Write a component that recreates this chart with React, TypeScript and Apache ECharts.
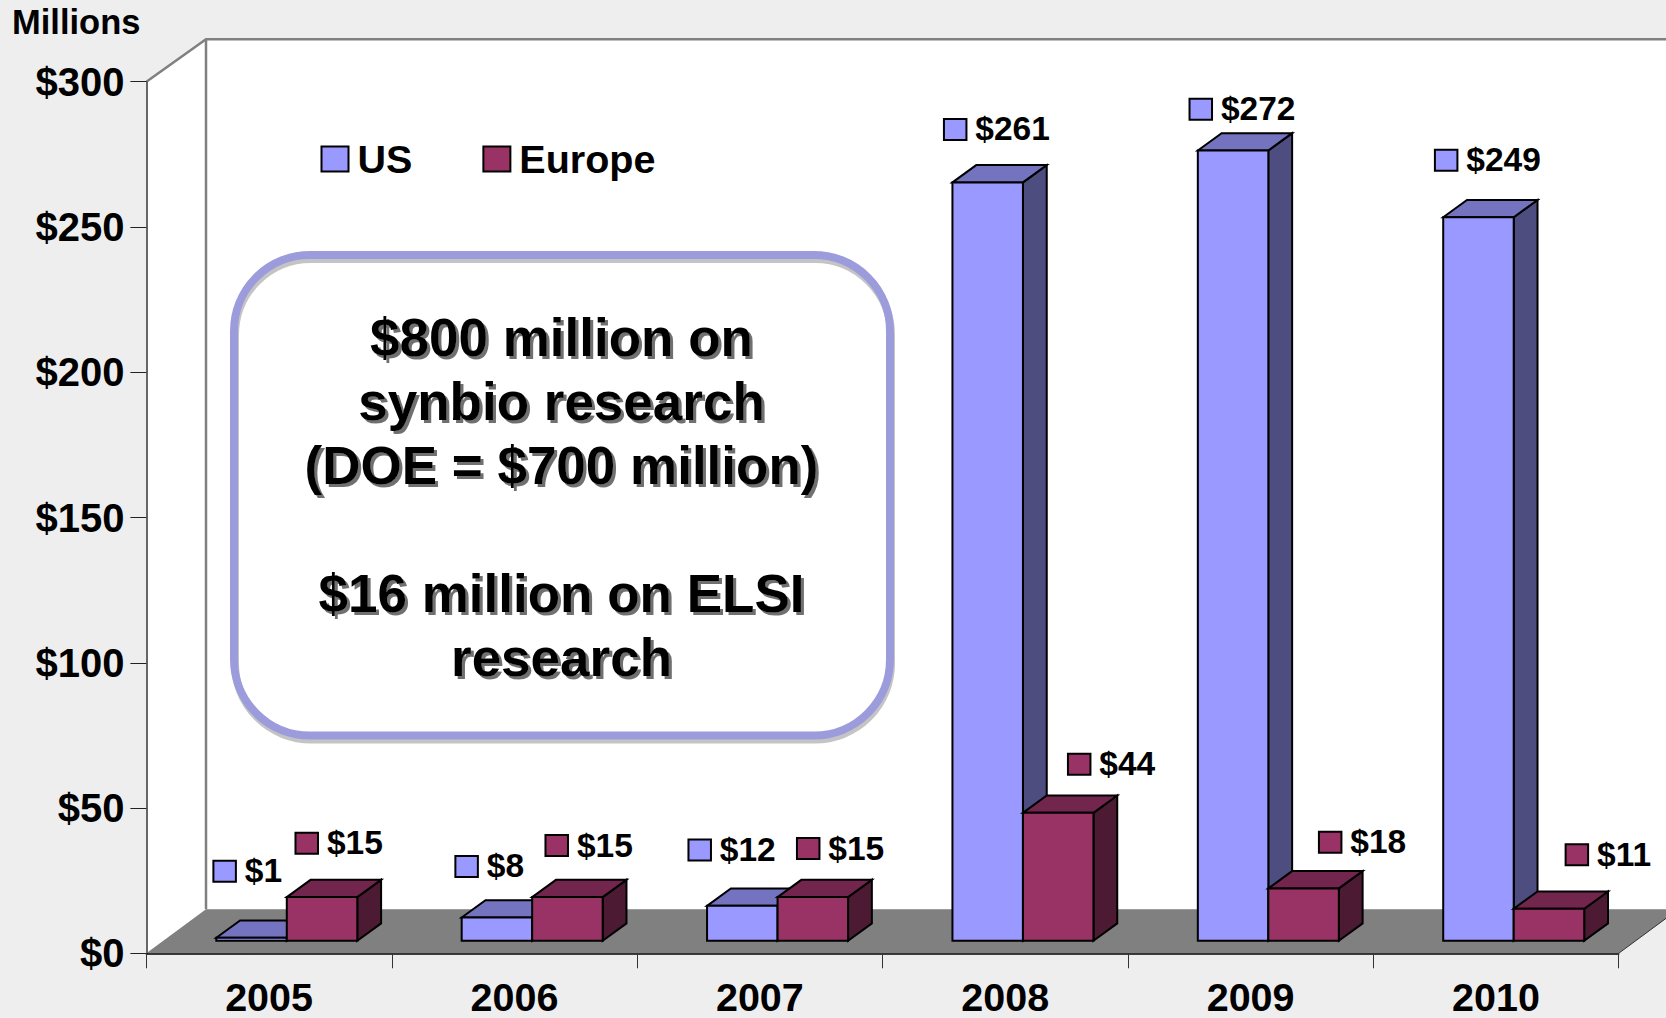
import React, { useEffect, useRef } from "react";
import * as echarts from "echarts";

const years = ["2005", "2006", "2007", "2008", "2009", "2010"];
const usValues = [1, 8, 12, 261, 272, 249];
const europeValues = [15, 15, 15, 44, 18, 11];
const yTicks = { min: 0, max: 300, interval: 50 };
const noteLines = [
  "$800 million on",
  "synbio research",
  "(DOE = $700 million)",
  "",
  "$16 million on ELSI",
  "research",
];

// key offsets of each value tag, from the top-left front corner of its bar
const usTagOffsets = [[-2.9, -77.1], [-6.3, -61.5], [-18.6, -66.3], [-8.5, -63.5], [-8.3, -51.8], [-8.3, -67.4]];
const europeTagOffsets = [[8.7, -64.4], [13.3, -62.1], [19.4, -59.1], [45, -59.2], [50.6, -56.7], [51.9, -64.4]];

const FONT = "'Liberation Sans', Arial, sans-serif";
const BAR_W = 70.5;
const SHIFT_X = 17.7;
const SHIFT_Y = 12.6;
const DEPTH_X = 23.8;
const DEPTH_Y = 17.3;
const WALL_X = 59.6;
const WALL_Y = 42.4;
const FLOOR_Y = 44;
const BOX = { x: 234, y: 255, width: 656, height: 480.5, r: 76 };

function barRenderer(
  side: "left" | "right",
  front: string,
  top: string,
  dark: string,
  offsets: number[][]
) {
  return (_params: any, api: any) => {
    const cat = api.value(0);
    const val = api.value(1);
    const base = api.coord([cat, 0]);
    const peak = api.coord([cat, val]);
    const x0 = base[0] + SHIFT_X - (side === "left" ? BAR_W : 0);
    const x1 = x0 + BAR_W;
    const yb = base[1] - SHIFT_Y;
    const yt = peak[1] - SHIFT_Y;
    const stroke = { stroke: "#000", lineWidth: 2, lineJoin: "miter" };
    const off = offsets[cat];
    const kx = x0 + off[0];
    const ky = yt + off[1];
    return {
      type: "group",
      children: [
        {
          type: "polygon",
          shape: { points: [[x1, yb], [x1 + DEPTH_X, yb - DEPTH_Y], [x1 + DEPTH_X, yt - DEPTH_Y], [x1, yt]] },
          style: { fill: dark, ...stroke },
        },
        {
          type: "polygon",
          shape: { points: [[x0, yt], [x0 + DEPTH_X, yt - DEPTH_Y], [x1 + DEPTH_X, yt - DEPTH_Y], [x1, yt]] },
          style: { fill: top, ...stroke },
        },
        {
          type: "rect",
          shape: { x: x0, y: yt, width: BAR_W, height: yb - yt },
          style: { fill: front, ...stroke },
        },
        {
          type: "rect",
          shape: { x: kx, y: ky, width: 22.5, height: 21 },
          style: { fill: front, ...stroke },
        },
        {
          type: "text",
          x: kx + 31.4,
          y: ky + 10,
          style: {
            text: "$" + val,
            fill: "#000",
            font: `bold 33.5px ${FONT}`,
            verticalAlign: "middle",
            align: "left",
          },
        },
      ],
    };
  };
}

function wallRenderer(params: any) {
  const { x, y, width, height } = params.coordSys;
  const bottom = y + height;
  const right = x + width;
  const bx = x + WALL_X;
  const by = y - WALL_Y;
  const fy = bottom - FLOOR_Y;
  const far = right + WALL_X;
  const gray = "#808080";
  return {
    type: "group",
    children: [
      {
        type: "polygon",
        shape: { points: [[x, y], [bx, by], [far, by], [far, fy], [bx, fy], [x, bottom]] },
        style: { fill: "#fff" },
      },
      {
        type: "polygon",
        shape: { points: [[x, bottom], [right, bottom], [far, fy], [bx, fy]] },
        style: { fill: gray },
      },
      {
        type: "polyline",
        shape: { points: [[x, y], [bx, by], [far, by]] },
        style: { fill: "none", stroke: gray, lineWidth: 2.5 },
      },
      {
        type: "line",
        shape: { x1: bx, y1: by, x2: bx, y2: fy },
        style: { stroke: gray, lineWidth: 2.5 },
      },
      {
        type: "line",
        shape: { x1: right, y1: bottom, x2: far, y2: fy },
        style: { stroke: "#333", lineWidth: 1 },
      },
    ],
  };
}

export default function App() {
  const ref = useRef<HTMLDivElement>(null);
  useEffect(() => {
    document.body.style.margin = "0";
    const chart = echarts.init(ref.current!, undefined, { renderer: "svg" });
    chart.setOption({
      animation: false,
      backgroundColor: "#eeeeee",
      grid: { left: 146.4, top: 81.7, width: 1472.3, height: 871.6, containLabel: false, outerBoundsMode: "none" },
      legend: {
        left: 315.5,
        top: 134,
        itemWidth: 27,
        itemHeight: 25,
        itemGap: 70,
        icon: "rect",
        data: ["US", "Europe"],
        itemStyle: { borderColor: "#000", borderWidth: 2 },
        textStyle: { fontFamily: FONT, fontWeight: "bold", fontSize: 39.5, color: "#000", padding: [0, 0, 0, 4] },
      },
      xAxis: {
        type: "category",
        data: years,
        z: 3,
        axisLine: { lineStyle: { color: "#000", width: 1.5 } },
        axisTick: { show: true, length: 15, lineStyle: { color: "#333", width: 1 } },
        axisLabel: { fontFamily: FONT, fontWeight: "bold", fontSize: 39.5, lineHeight: 34, color: "#000", margin: 26.5 },
      },
      yAxis: {
        type: "value",
        ...yTicks,
        z: 3,
        name: "Millions",
        nameLocation: "end",
        nameGap: 60,
        nameTextStyle: {
          fontFamily: FONT,
          fontWeight: "bold",
          fontSize: 34.5,
          color: "#000",
          align: "right",
          verticalAlign: "middle",
          padding: [0, 6, 0, 0],
        },
        splitLine: { show: false },
        axisLine: { show: true, lineStyle: { color: "#666", width: 2 } },
        axisTick: { show: true, length: 16, lineStyle: { color: "#222", width: 1 } },
        axisLabel: {
          fontFamily: FONT,
          fontWeight: "bold",
          fontSize: 40,
          color: "#000",
          margin: 22,
          formatter: "${value}",
        },
      },
      series: [
        {
          type: "custom",
          name: "walls",
          silent: true,
          z: 1,
          data: [[0, 0]],
          encode: { x: 0, y: 1 },
          renderItem: wallRenderer,
        },
        {
          type: "custom",
          name: "US",
          z: 4,
          itemStyle: { color: "#9999ff" },
          data: usValues.map((v, i) => [i, v]),
          encode: { x: 0, y: 1 },
          renderItem: barRenderer("left", "#9999ff", "#7373bf", "#4d4d80", usTagOffsets),
        },
        {
          type: "custom",
          name: "Europe",
          z: 5,
          itemStyle: { color: "#993366" },
          data: europeValues.map((v, i) => [i, v]),
          encode: { x: 0, y: 1 },
          renderItem: barRenderer("right", "#993366", "#73264d", "#4d1a33", europeTagOffsets),
        },
      ],
      graphic: [
        {
          type: "rect",
          z: 10,
          shape: { ...BOX },
          style: { fill: "#fff" },
        },
        {
          type: "rect",
          z: 11,
          x: 1,
          y: 4,
          shape: { ...BOX },
          style: { fill: "none", stroke: "#c4c4c4", lineWidth: 8 },
        },
        {
          type: "rect",
          z: 12,
          shape: { ...BOX },
          style: { fill: "none", stroke: "#9c9cdc", lineWidth: 8 },
        },
        {
          type: "text",
          z: 13,
          x: 561.5,
          y: 497,
          style: {
            text: noteLines.join("\n"),
            fill: "#000",
            font: `bold 53px ${FONT}`,
            lineHeight: 64,
            align: "center",
            verticalAlign: "middle",
            textShadowColor: "#707070",
            textShadowOffsetX: 3,
            textShadowOffsetY: 3,
            textShadowBlur: 0.5,
          },
        },
      ],
    });
    return () => chart.dispose();
  }, []);
  return <div ref={ref} style={{ width: 1666, height: 1018 }} />;
}
